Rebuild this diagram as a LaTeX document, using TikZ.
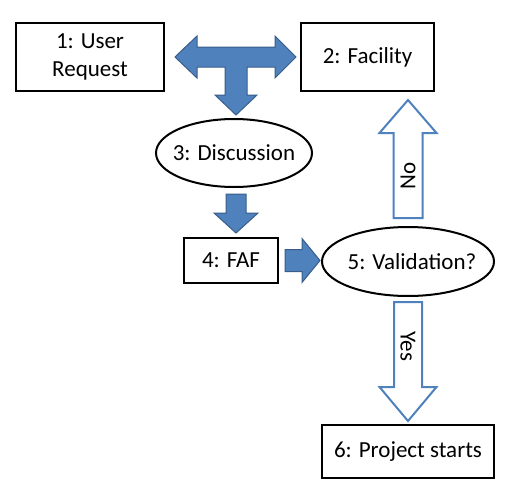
\documentclass[tikz,border=0pt]{standalone}
\usepackage{fontspec}
\setmainfont{Carlito}
\usepackage{tikz}
\usetikzlibrary{positioning,calc,shapes.geometric}

\definecolor{arrowblue}{HTML}{4F81BD}
\definecolor{arrowedge}{HTML}{385D8A}

% block arrow from #2 to #3: shaft half width #4, head half width #5, head length #6
\newcommand{\fatarrow}[6]{%
  \draw[#1] let \p1=(#2), \p2=(#3),
    \n1={veclen(\x2-\x1,\y2-\y1)}, \n2={atan2(\y2-\y1,\x2-\x1)} in
    [shift={(\p1)}, rotate=\n2]
    (0,#4) -- ({\n1-#6},#4) -- ({\n1-#6},#5) -- (\n1,0)
    -- ({\n1-#6},-#5) -- ({\n1-#6},-#4) -- (0,-#4) -- cycle;
}

\begin{document}
\begin{tikzpicture}[x=1pt, y=-1pt,
    every node/.style={font=\fontsize{23}{28}\selectfont},
    box/.style={draw, rectangle, line width=2pt, align=center, inner sep=0pt},
    oval/.style={draw, ellipse, line width=2pt, inner sep=0pt},
    solidarrow/.style={fill=arrowblue, draw=arrowedge, line width=1pt, line join=miter},
    hollowarrow/.style={fill=white, draw=arrowblue, line width=2pt, line join=miter}]
    \useasboundingbox (0,0) rectangle (522,498);

    % Nodes
    \node [box, minimum width=148pt, minimum height=68pt] (req) at (90,57) {1: User\\Request};
    \node [box, minimum width=133pt, minimum height=68pt] (fac) at (367.5,57) {2: Facility};
    \node [oval, minimum width=156pt, minimum height=68pt] (disc) at (234,153) {\makebox[0pt]{3: Discussion}};
    \node [box, minimum width=94pt, minimum height=45pt] (faf) at (231,260.5) {4: FAF};
    \node [oval, minimum width=172pt, minimum height=69pt] (valid) at (408,261.5) {\makebox[0pt]{\hspace{8pt}5: Validation?}};
    \node [box, minimum width=172pt, minimum height=53pt] (proj) at (408,451.5) {6: Project starts};

    % Arrows
    \coordinate (tee) at (236,57);
    \draw [solidarrow, shift={(tee)}] (-61,0) -- (-39,-21) -- (-39,-10) -- (39,-10) -- (39,-21)
      -- (60,0) -- (39,21) -- (39,10) -- (11,10) -- (11,38) -- (21,38) -- (0,58)
      -- (-21,38) -- (-11,38) -- (-11,10) -- (-39,10) -- (-39,21) -- cycle;
    \fatarrow{solidarrow}{$(disc.south)+(2,6)$}{$(disc.south |- faf.north)+(2,-4)$}{10}{22}{20}
    \fatarrow{solidarrow}{$(faf.east)+(6,0)$}{$(faf.east -| valid.west)+(-1,0)$}{11}{22}{18}
    \fatarrow{hollowarrow}{$(valid.north)+(0,-8)$}{$(valid.north |- fac.south)+(0,8)$}{14.5}{28.5}{33}
    \fatarrow{hollowarrow}{$(valid.south)+(0,5)$}{$(proj.north)+(0,-3)$}{14}{28.5}{34}

    % Labels
    \node [rotate=90] (no) at ($(valid.north)+(0,-50)$) {No};
    \node [rotate=-90] (yes) at ($(valid.south)+(0,49)$) {Yes};
\end{tikzpicture}
\end{document}
